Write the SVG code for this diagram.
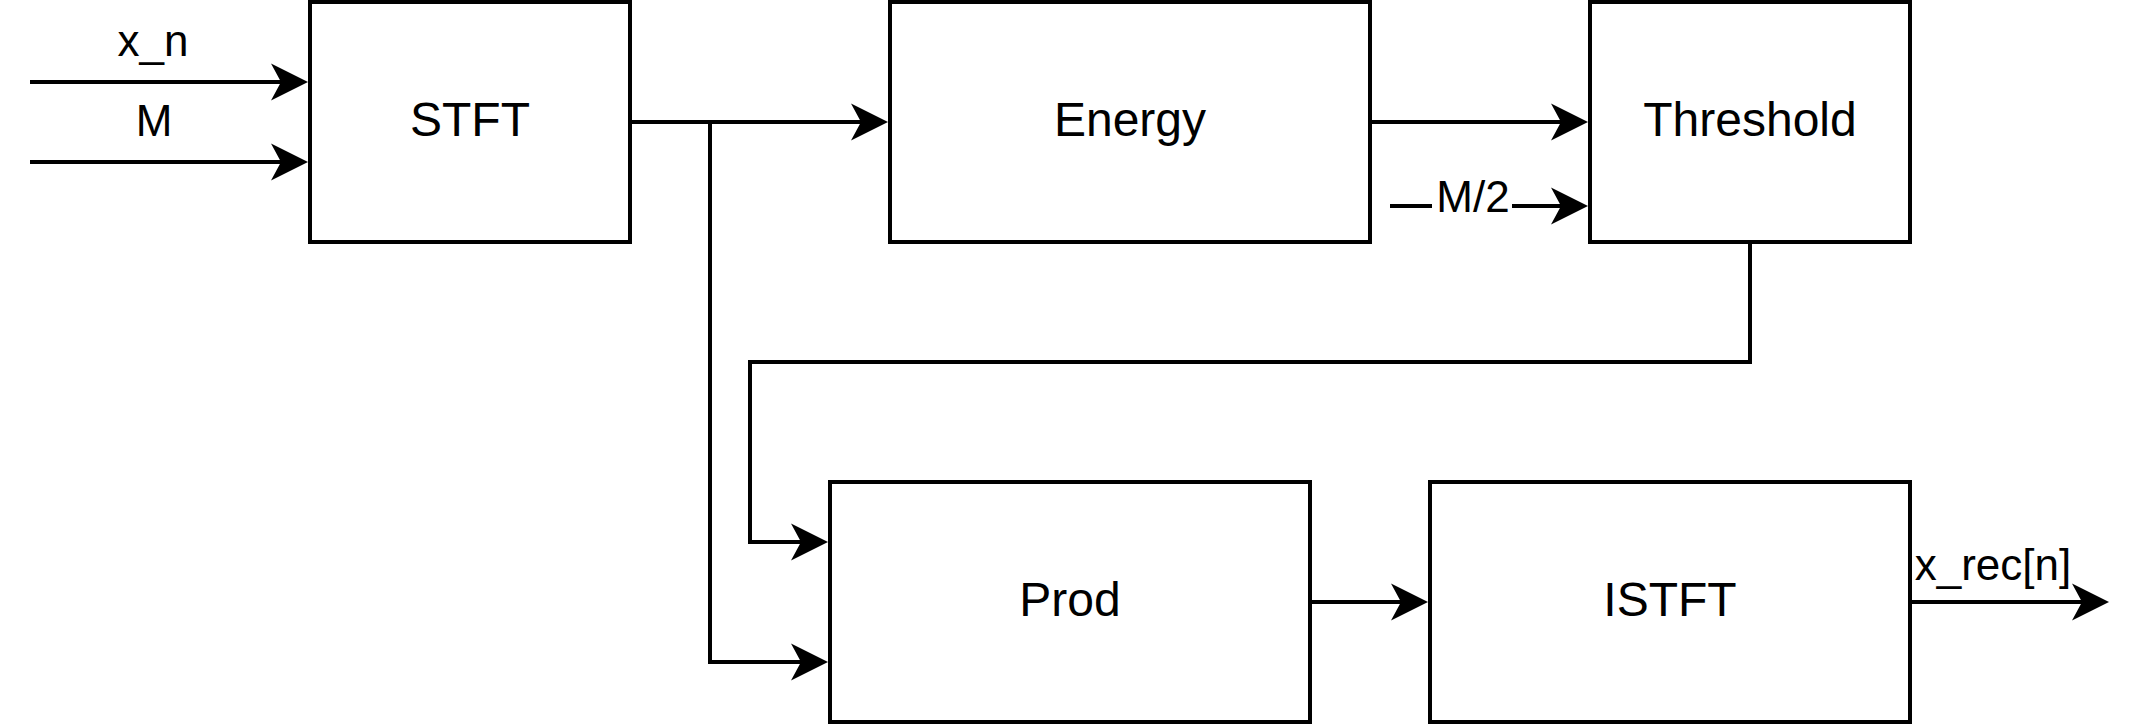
<svg xmlns="http://www.w3.org/2000/svg" width="2144" height="724" viewBox="0 0 2144 724">
<style>
.box{fill:#fff;stroke:#000;stroke-width:4}
.lbl{font-family:"Liberation Sans",Helvetica,Arial,sans-serif;font-size:48px;fill:#000;text-anchor:middle}
.elbl{font-family:"Liberation Sans",Helvetica,Arial,sans-serif;font-size:44px;fill:#000;text-anchor:middle}
.edge{fill:none;stroke:#000;stroke-width:4;stroke-linejoin:miter}
.arr{marker-end:url(#ah)}
</style>
<defs>
<marker id="ah" markerUnits="userSpaceOnUse" viewBox="-40 -20 44 40" markerWidth="44" markerHeight="40" refX="-27" refY="0" orient="auto" overflow="visible">
<path d="M0,0 L-37,-18.5 L-27,0 L-37,18.5 Z" fill="#000"/>
</marker>
</defs>
<rect width="2144" height="724" fill="#fff"/>
<g id="connectors">
<path class="edge arr" d="M30,82 H281"/>
<path class="edge arr" d="M30,162 H281"/>
<path class="edge arr" d="M630,122 H861"/>
<path class="edge arr" d="M710,122 V662 H801"/>
<path class="edge arr" d="M1370,122 H1561"/>
<path class="edge arr" d="M1390,206 H1561"/>
<path class="edge arr" d="M1750,242 V362 H750 V542 H801"/>
<path class="edge arr" d="M1310,602 H1401"/>
<path class="edge arr" d="M1910,602 H2082"/>
<text class="elbl" x="153" y="56">x_n</text>
<text class="elbl" x="154" y="136">M</text>
<rect x="1432" y="178" width="80" height="40" fill="#fff"/>
<text class="elbl" x="1473" y="212">M/2</text>
<text class="elbl" x="1993" y="580">x_rec[n]</text>
</g>
<g id="stft"><rect class="box" x="310" y="2" width="320" height="240"/><text class="lbl" x="470" y="136">STFT</text></g>
<g id="energy"><rect class="box" x="890" y="2" width="480" height="240"/><text class="lbl" x="1130" y="136">Energy</text></g>
<g id="threshold"><rect class="box" x="1590" y="2" width="320" height="240"/><text class="lbl" x="1750" y="136">Threshold</text></g>
<g id="prod"><rect class="box" x="830" y="482" width="480" height="240"/><text class="lbl" x="1070" y="616">Prod</text></g>
<g id="istft"><rect class="box" x="1430" y="482" width="480" height="240"/><text class="lbl" x="1670" y="616">ISTFT</text></g>
</svg>
